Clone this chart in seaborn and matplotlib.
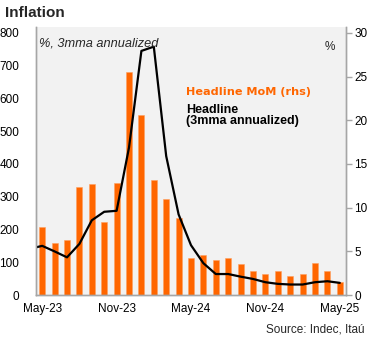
import numpy as np
import pandas as pd
import matplotlib
matplotlib.use("Agg")
import matplotlib.pyplot as plt
import seaborn as sns

sns.set_theme(style="white")
plt.rcParams['font.family'] = ['Liberation Sans', 'DejaVu Sans']

months = ["May-23", "Jun-23", "Jul-23", "Aug-23", "Sep-23", "Oct-23", "Nov-23",
          "Dec-23", "Jan-24", "Feb-24", "Mar-24", "Apr-24", "May-24", "Jun-24",
          "Jul-24", "Aug-24", "Sep-24", "Oct-24", "Nov-24", "Dec-24", "Jan-25",
          "Feb-25", "Mar-25", "Apr-25", "May-25"]
mom = [7.8, 6.0, 6.3, 12.4, 12.7, 8.3, 12.8, 25.5, 20.6, 13.2, 11.0, 8.8, 4.2,
       4.6, 4.0, 4.2, 3.5, 2.7, 2.4, 2.7, 2.2, 2.4, 3.7, 2.8, 1.5]
# 3mma annualized, starting one month earlier (Apr-23)
line_months = ["Apr-23"] + months
ann3mma = [141, 150, 133, 115, 156, 228, 254, 257, 450, 745, 758, 424, 246,
           152, 97, 64, 64, 56, 49, 39, 34, 32, 32, 39, 42, 37]
tick_labels = ["May-23", "Nov-23", "May-24", "Nov-24", "May-25"]

bars = pd.DataFrame({"month": months, "mom": mom})
line = pd.DataFrame({"pos": np.arange(-1, len(months)), "ann": ann3mma})

fig = plt.figure(figsize=(3.75, 3.43), dpi=100)
ax = fig.add_axes([36/375, 48/343, 310/375, 268/343])
ax.set_facecolor("#f2f2f2")

orange = "#ff6600"
sns.barplot(data=bars, x="month", y="mom", color=orange, width=0.47,
            saturation=1, edgecolor="#ffa060", linewidth=0.4, ax=ax)
ax.set_xlabel("")
ax.set_ylabel("")

ax2 = ax.twinx()
sns.lineplot(data=line, x="pos", y="ann", color="black", linewidth=1.6, ax=ax2)
ax2.set_ylabel("")
ax2.set_xlabel("")

ax.set_ylim(0, 818 * 30 / 800)
ax.set_xlim(-0.5, 24.5)
ax.set_yticks(np.arange(0, 31, 5))
ax2.set_ylim(0, 818)
ax2.set_yticks(np.arange(0, 801, 100))
ax2.set_xlim(-0.5, 24.5)

ax.set_xticks([0, 6, 12, 18, 24])
ax.set_xticklabels(tick_labels)

spc = "#a6a6a6"
for a in (ax, ax2):
    a.spines["top"].set_visible(False)
    for s in ("left", "right", "bottom"):
        a.spines[s].set_color(spc)
        a.spines[s].set_linewidth(1.0)

ax.tick_params(axis="x", length=0, pad=6, labelsize=8.5, colors="black")
ax.tick_params(axis="y", left=False, labelleft=False, right=True,
               labelright=True, length=4, width=1,
               color=spc, pad=2, labelsize=8.5, labelcolor="black")
ax2.tick_params(axis="y", left=False, labelleft=True, right=False,
                labelright=False, length=0, pad=12,
                labelsize=8.5, labelcolor="black")
ax2.tick_params(axis="x", length=0)

fig.text(5/375, 1 - 13/343, "Inflation", fontsize=11, fontweight="bold",
         va="center", ha="left")
fig.text(39/375, 1 - 43/343, "%, 3mma annualized", fontsize=9.2,
         fontstyle="italic", va="center", ha="left")
fig.text(330/375, 1 - 47/343, "%", fontsize=8.5, va="center", ha="center")
fig.text(186/375, 1 - 92/343, "Headline MoM (rhs)", fontsize=8.1,
         fontweight="bold", color=orange, va="center", ha="left",
         family=["DejaVu Sans"])
fig.text(186/375, 1 - 110/343, "Headline", fontsize=9.0,
         fontweight="bold", color="black", va="center", ha="left")
fig.text(186/375, 1 - 121/343, "(3mma annualized)", fontsize=9.0,
         fontweight="bold", color="black", va="center", ha="left")
fig.text(365/375, 1 - 330/343, "Source: Indec, Itaú", fontsize=8.5,
         va="center", ha="right")

fig.savefig("out.png", dpi=100)
